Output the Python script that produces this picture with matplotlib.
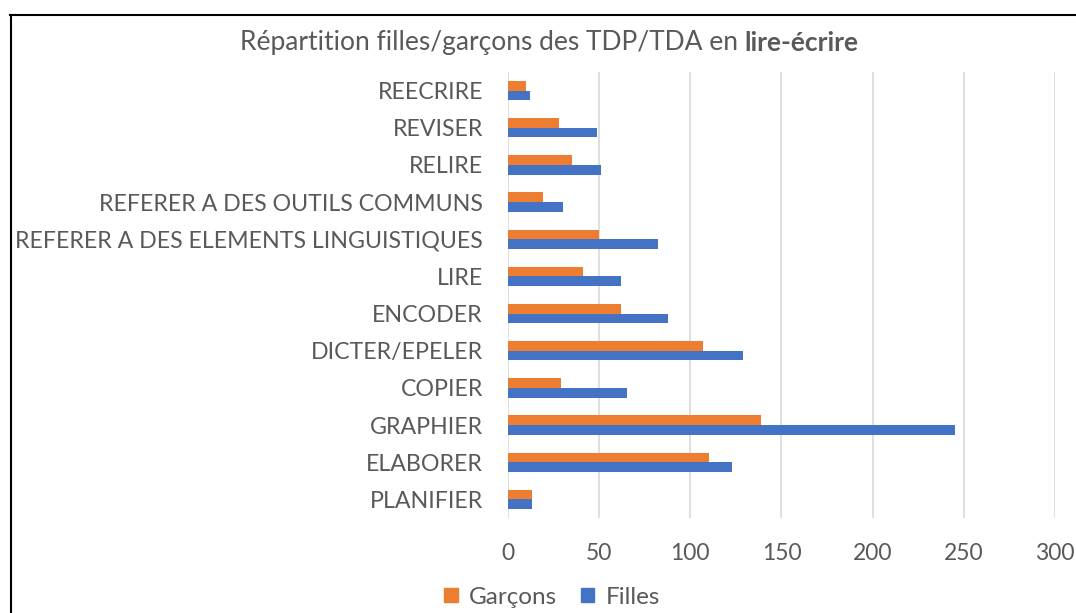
import numpy as np
import matplotlib.pyplot as plt
from matplotlib.lines import Line2D
from matplotlib.patches import Patch

# ── Data (bottom to top) ────────────────────────────────────────────────
categories = [
    "PLANIFIER", "ELABORER", "GRAPHIER", "COPIER", "DICTER/EPELER",
    "ENCODER", "LIRE", "REFERER A DES ELEMENTS LINGUISTIQUES",
    "REFERER A DES OUTILS COMMUNS", "RELIRE", "REVISER", "REECRIRE",
]
garcons = [13, 110, 139, 29, 107, 62, 41, 50, 19, 35, 28, 10]
filles = [13, 123, 245, 65, 129, 88, 62, 82, 30, 51, 49, 12]
x_ticks = [0, 50, 100, 150, 200, 250, 300]

# ── Style ───────────────────────────────────────────────────────────────
ORANGE = "#ED7D31"
BLUE = "#4472C4"
TEXT = "#595959"
GRID = "#D9D9D9"
plt.rcParams["font.family"] = ["Lato", "DejaVu Sans"]

fig = plt.figure(figsize=(10.76, 6.13), dpi=100, facecolor="white")
ax = fig.add_axes([0.4721, 0.155, 0.5084, 0.7275])

y = np.arange(len(categories))
h = 0.26
ax.barh(y + h / 2, garcons, height=h, color=ORANGE, label="Garçons", zorder=3)
ax.barh(y - h / 2, filles, height=h, color=BLUE, label="Filles", zorder=3)

ax.set_xlim(0, 300)
ax.set_ylim(-0.5, len(categories) - 0.5)
ax.set_xticks(x_ticks)
ax.set_xticklabels([str(t) for t in x_ticks])
ax.set_yticks(y)
ax.set_yticklabels(categories)
ax.tick_params(axis="both", length=0, colors=TEXT)
ax.tick_params(axis="x", pad=18, labelsize=16.5)
ax.tick_params(axis="y", pad=18, labelsize=16.7)
ax.grid(axis="x", color=GRID, linewidth=1.2, zorder=0)
for s in ax.spines.values():
    s.set_visible(False)

# Title: normal part + bold part, centred as a whole
t1 = fig.text(0, 0.93, "Répartition filles/garçons des TDP/TDA en ",
              fontsize=19, color=TEXT, ha="left", va="center")
t2 = fig.text(0, 0.93, "lire-écrire", fontsize=19, color=TEXT,
              fontweight="bold", ha="left", va="center")
fig.canvas.draw()
r = fig.canvas.get_renderer()
w1 = t1.get_window_extent(r).width / fig.bbox.width
w2 = t2.get_window_extent(r).width / fig.bbox.width
x0 = 549 / 1076 - (w1 + w2) / 2
t1.set_x(x0)
t2.set_x(x0 + w1)

handles = [Patch(color=ORANGE, label="Garçons"), Patch(color=BLUE, label="Filles")]
fig.legend(handles=handles, loc="center", bbox_to_anchor=(0.513, 0.026), ncol=2,
           frameon=False, fontsize=17.5, labelcolor=TEXT, handlelength=0.55,
           handleheight=0.55, handletextpad=0.45, columnspacing=1.0)

# Screenshot frame
fig.add_artist(Line2D([10 / 1076, 1], [1 - 14.5 / 613] * 2, color="black", lw=1.5))
fig.add_artist(Line2D([10.5 / 1076] * 2, [0, 1 - 14.5 / 613], color="black", lw=1.5))

fig.savefig("out.png", dpi=100, facecolor="white")
